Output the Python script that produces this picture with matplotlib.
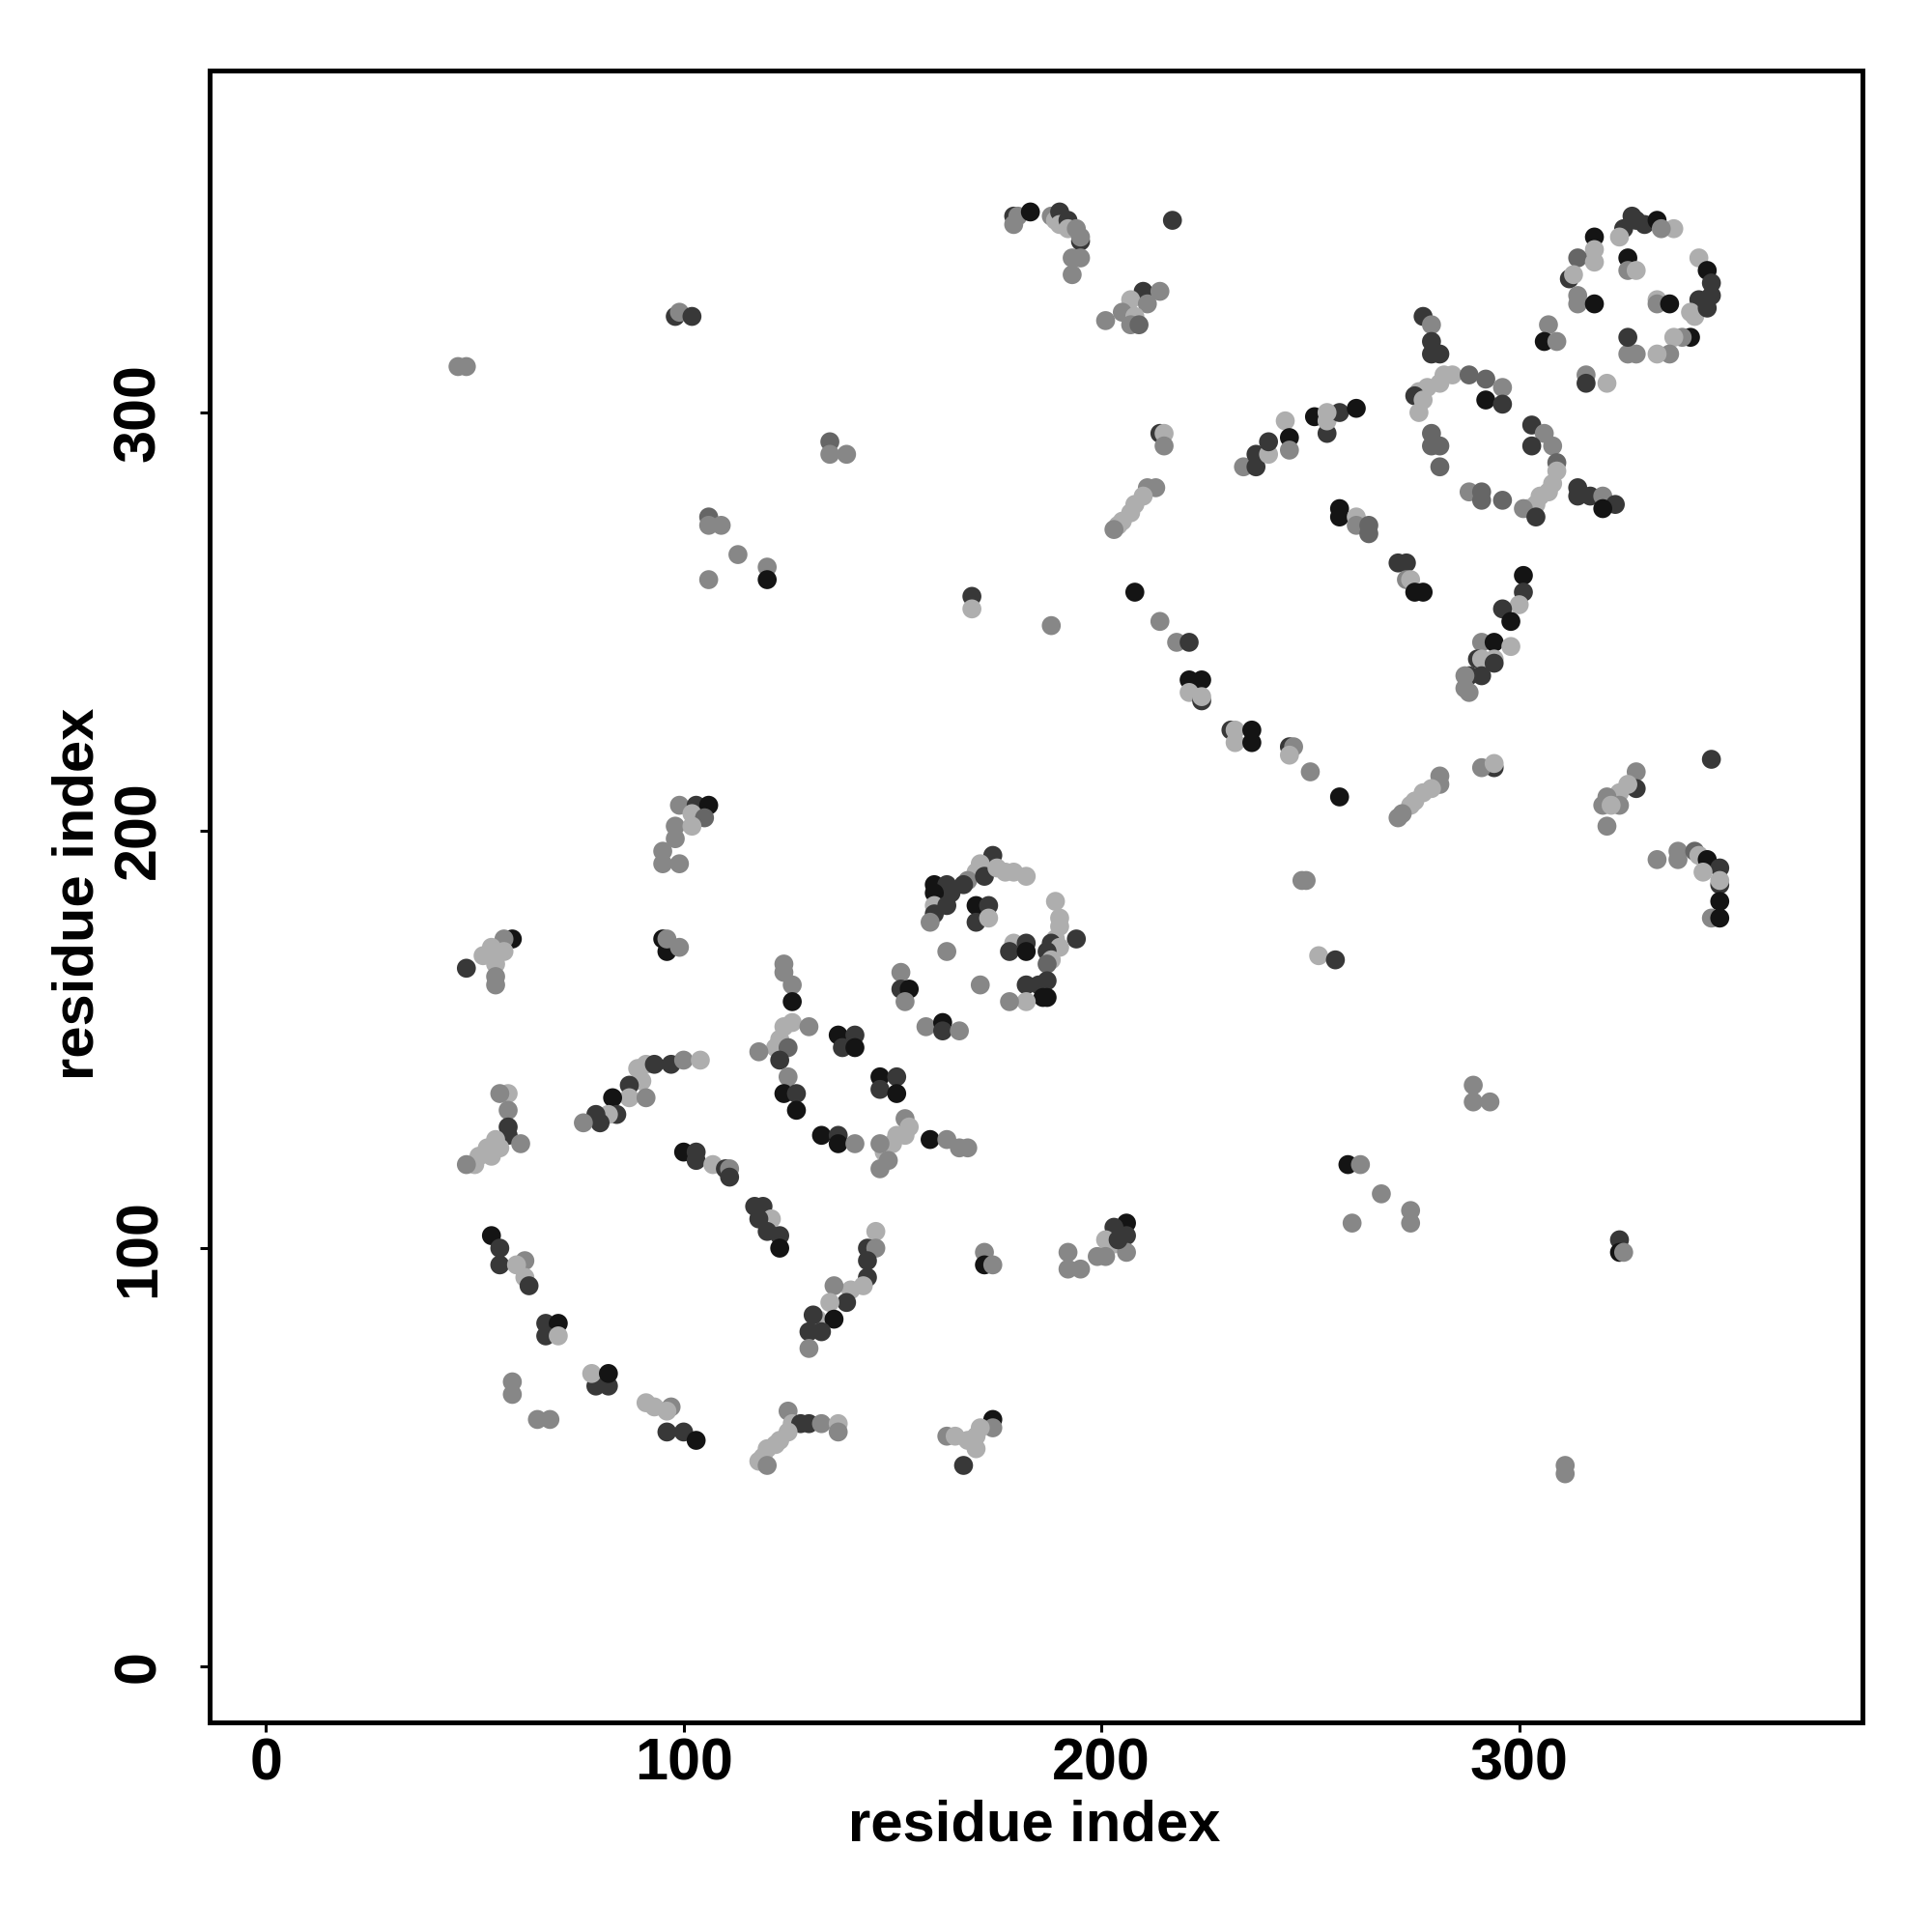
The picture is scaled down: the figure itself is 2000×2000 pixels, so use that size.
import numpy as np
import matplotlib.pyplot as plt

# residue contact pairs, one line per patch
res_i = [
    46, 48, 98, 99, 102, 135, 135, 139, 106, 106, 109, 113, 120, 120, 106,
    179, 179, 180, 183, 188, 189, 190, 190, 192, 192, 195, 194, 195,
    193, 195, 193, 217,
    210, 214, 207, 211, 205, 208, 207, 209, 201,
    214, 215, 215,
    213, 211, 210, 208, 207, 205, 204, 203,
    234, 237, 237, 240, 240, 244, 245, 245, 251,
    169, 169, 208, 188, 214,
    327, 328, 330, 325, 324, 333, 337, 334,
    318, 318, 314, 318, 312, 313,
    326, 326, 328,
    314, 314, 318,
    333, 333, 336,
    343, 345, 346, 346, 345, 343, 341, 342, 345,
    341, 339, 337, 336, 333, 328, 326, 326,
    307, 306, 309,
    316, 316, 321,
    277, 279, 279, 279, 281,
    284, 288, 282, 281, 278, 276, 275, 277, 276,
    292, 296, 292, 296,
    254, 254, 257, 261, 254,
    279, 279, 281, 281,
    303, 306, 303, 308, 309, 309,
    288, 291, 291, 296,
    308, 307, 305, 304, 302, 301, 304,
    314, 317, 320, 323, 320, 314,
    257, 257, 261, 261, 264, 264,
    271, 273, 273, 274, 275, 277,
    301, 301, 300, 296, 298,
    99, 103, 106, 102, 105, 98, 98, 102, 95, 95, 99,
    95, 96, 96, 99,
    59, 57, 54, 52, 57, 55, 55, 55, 48,
    124, 124, 126, 126,
    126, 130, 124, 123, 122, 125, 118, 123,
    137, 141, 138, 141,
    218, 221, 221, 224, 221, 224, 224,
    231, 232, 236, 232, 236,
    245, 246, 245, 250,
    249, 248,
    174, 171, 170, 168, 167, 172, 175, 179, 182, 177,
    160, 163, 164, 160, 160, 163, 160, 159,
    170, 173, 170, 173,
    189, 190, 190, 194, 189, 188, 190, 187, 188, 187,
    179, 182, 178, 182,
    163, 171,
    152, 152, 154, 153,
    182, 185, 187, 186, 187, 182, 178,
    158, 162, 162, 166,
    291, 294, 298, 290, 291, 294, 294, 288, 291, 287, 288, 287,
    257,
    294, 291, 294,
    281, 281, 279, 277, 275, 274, 272, 271,
    328, 328, 326, 324, 321, 320, 324, 322, 321,
    346,
    333, 338, 338, 342, 343, 345, 348, 344, 348, 348,
    348, 346, 348,
    252, 256,
    89, 91, 93, 97, 100, 104,
    90, 87, 87, 91, 83, 84, 82, 79, 80, 76,
    125, 124, 127, 127,
    147, 147, 151, 151,
    133, 137, 137, 141,
    58, 56, 58, 58, 58, 61, 55, 53, 51, 50, 48, 56, 54,
    100, 103, 103, 107, 110, 111, 111,
    117, 119, 121, 118, 123, 120, 123,
    146, 144, 146, 144, 144, 143, 140, 136, 139, 135, 132, 136, 131, 130, 133, 130,
    54, 56, 56, 62, 60, 62, 63,
    67, 70, 67, 70,
    59, 59, 65, 68,
    79, 82, 78, 82,
    91, 93, 97, 96, 96, 100, 103,
    125, 126, 128, 130, 133, 137, 137, 125, 123, 122, 120, 119, 118, 120,
    153, 154, 153, 151, 150, 148, 147, 147, 149,
    159, 163, 166, 168,
    172, 172, 174,
    192, 192, 195,
    206, 203, 206, 201, 203, 206, 201, 199, 204,
    174, 174, 171, 170, 168, 170, 163, 165, 167,
    289, 289, 293,
    259, 262,
    267, 274, 274, 260,
    324, 324, 325,
    311, 311,
]

res_j = [
    311, 311, 323, 324, 323, 293, 290, 290, 275, 273, 273, 266, 263, 260, 260,
    347, 345, 347, 348, 347, 346, 348, 345, 346, 344, 341, 344, 342,
    337, 337, 333, 346,
    329, 329, 327, 326, 324, 323, 321, 321, 322,
    295, 295, 292,
    282, 282, 280, 278, 276, 274, 273, 272,
    287, 290, 287, 290, 293, 298, 294, 291, 299,
    256, 253, 257, 249, 250,
    347, 346, 345, 344, 342, 346, 344, 344,
    342, 339, 337, 336, 332, 333,
    337, 334, 334,
    328, 326, 326,
    327, 326, 326,
    337, 334, 331, 328, 327, 327, 324, 323, 325,
    318, 318, 318, 314, 314, 314, 314, 318,
    321, 317, 317,
    309, 307, 307,
    323, 321, 317, 314, 314,
    309, 309, 309, 307, 306, 305, 304, 303, 300,
    308, 306, 303, 302,
    295, 298, 300, 301, 300,
    295, 292, 292, 287,
    297, 295, 292, 292, 288, 286,
    281, 281, 279, 279,
    283, 281, 280, 278, 277, 277, 275,
    282, 280, 280, 278, 277, 280,
    277, 275, 275, 273, 273, 271,
    264, 264, 260, 260, 257, 257,
    261, 257, 254, 253, 250,
    206, 206, 206, 204, 203, 201, 198, 201, 195, 192, 192,
    174, 171, 174, 172,
    174, 174, 172, 170, 171, 168, 165, 163, 167,
    168, 166, 163, 159,
    154, 153, 153, 150, 148, 148, 147, 145,
    151, 151, 148, 148,
    245, 245, 236, 236, 233, 231, 232,
    224, 224, 224, 221, 221,
    220, 220, 218, 214,
    188, 188,
    194, 192, 190, 188, 187, 189, 191, 190, 189, 190,
    187, 187, 185, 185, 182, 182, 180, 178,
    182, 182, 178, 179,
    183, 179, 177, 174, 174, 173, 172, 171, 169, 168,
    173, 173, 171, 171,
    171, 163,
    166, 162, 162, 159,
    163, 163, 164, 160, 160, 159, 159,
    153, 154, 152, 152,
    245, 245, 244, 241, 241, 241, 240, 237, 237, 234, 233, 237,
    208,
    215, 215, 216,
    213, 211, 210, 209, 207, 206, 204, 203,
    214, 210, 211, 209, 208, 206, 206, 206, 201,
    217,
    193, 195, 193, 195, 194, 193, 191, 190, 187, 188,
    183, 179, 179,
    170, 169,
    143, 144, 144, 144, 145, 145,
    140, 139, 136, 136, 136, 132, 132, 132, 130, 130,
    141, 137, 137, 133,
    141, 138, 141, 137,
    127, 127, 125, 125,
    137, 137, 133, 129, 127, 125, 126, 124, 122, 120, 120, 124, 122,
    123, 123, 121, 120, 119, 119, 117,
    110, 110, 107, 107, 103, 104, 100,
    104, 100, 100, 97, 93, 91, 90, 91, 87, 87, 83, 83, 84, 80, 80, 76,
    103, 100, 96, 97, 96, 93, 91,
    82, 82, 79, 79,
    68, 65, 59, 59,
    67, 67, 70, 70,
    63, 62, 62, 61, 56, 56, 54,
    61, 58, 58, 58, 58, 58, 56, 56, 54, 53, 52, 50, 49, 48,
    131, 129, 127, 127, 125, 123, 125, 119, 121,
    126, 126, 124, 124,
    99, 96, 96,
    99, 95, 95,
    106, 105, 103, 102, 101, 99, 98, 98, 102,
    59, 57, 57, 55, 54, 52, 55, 55, 48,
    139, 135, 135,
    120, 120,
    113, 109, 106, 106,
    102, 99, 99,
    48, 46,
]

# grey shade of each point: B black, D dark, M mid, G grey, L light
shade = (
    "GGDGDMGGMGGGGBG"
    "DGGBGLDLDLDGG"
    "GGGD"
    "DGLGGLGMG"
    "DLG"
    "GGLLLLLG"
    "GDDLDLBGB"
    "DLBGG"
    "DDDDLBLG"
    "BLMLDL"
    "BGL"
    "GGB"
    "LGB"
    "LBDDDDLLD"
    "BGLGLGGD"
    "GBG"
    "GDL"
    "DGDDD"
    "LMLLLLDLL"
    "MGBD"
    "DLDBL"
    "MMMM"
    "DGDGML"
    "GMMM"
    "LLLLLGD"
    "DDGDBD"
    "BBLGMM"
    "DDGLBB"
    "BDLDB"
    "GDBLMGGLGGG"
    "BBGG"
    "BGLLLLGGD"
    "GGGB"
    "LGLLLMGD"
    "BDDB"
    "GDBBLDL"
    "DLBLB"
    "DGLG"
    "GG"
    "DLLGDDLLLL"
    "BDDBLDDG"
    "BDDL"
    "LLLDLDLDLM"
    "LDDB"
    "GG"
    "GDBG"
    "DDDBBLG"
    "GBDG"
    "GBLDLLDDDGGG"
    "B"
    "DGL"
    "GGLLLLGG"
    "GDLLGGGLG"
    "D"
    "GGGMLBDLDL"
    "BGB"
    "LD"
    "LLDDGL"
    "LDLGBDLDDG"
    "GBDB"
    "BDDB"
    "BDBG"
    "LGGDDGLLLLGLL"
    "BDDLDGD"
    "DDLDDDB"
    "LDGDDLLGDLLBDDDG"
    "BDDGLLD"
    "DBDL"
    "GGGG"
    "DDLB"
    "LLGLDDB"
    "GLDDGLGLLLLLLG"
    "GLLLLLGGG"
    "BGGG"
    "GBG"
    "GGG"
    "BDDLLGGGD"
    "BGLLLLGLD"
    "GGG"
    "BG"
    "GGGG"
    "DBG"
    "GG"
)

grey_level = {'B': 0.08, 'D': 0.22, 'M': 0.40, 'G': 0.53, 'L': 0.68}
levels = [grey_level[c] for c in shade]
assert len(res_i) == len(res_j) == len(levels), (len(res_i), len(res_j), len(levels))

ticks = [0, 100, 200, 300]

plt.rcParams['font.family'] = ['Liberation Sans', 'DejaVu Sans']
plt.rcParams['font.weight'] = 'bold'

fig = plt.figure(figsize=(20, 20), dpi=100)
ax = fig.add_axes([0.1084, 0.1085, 0.8557, 0.8551])
ax.scatter(res_i, res_j, c=levels, cmap='gray', vmin=0, vmax=1, s=200, linewidths=0)

ax.set_xlim(-13.5, 382.2)
ax.set_ylim(-13.5, 381.9)
ax.set_xticks(ticks)
ax.set_yticks(ticks)
for sp in ax.spines.values():
    sp.set_linewidth(3.6)
ax.tick_params(length=7.2, width=2.2, labelsize=44)
ax.tick_params(axis='x', pad=4)
ax.tick_params(axis='y', pad=24)
plt.setp(ax.get_yticklabels(), rotation=90, va='center')

ax.set_xlabel("residue index", fontsize=43, fontweight='bold')
ax.set_ylabel("residue index", fontsize=43, fontweight='bold')
ax.xaxis.label.set_va('center')
ax.yaxis.label.set_va('center')
ax.xaxis.set_label_coords(0.499, -0.0625)
ax.yaxis.set_label_coords(-0.0793, 0.5015)

fig.savefig("out.png", dpi=100)
